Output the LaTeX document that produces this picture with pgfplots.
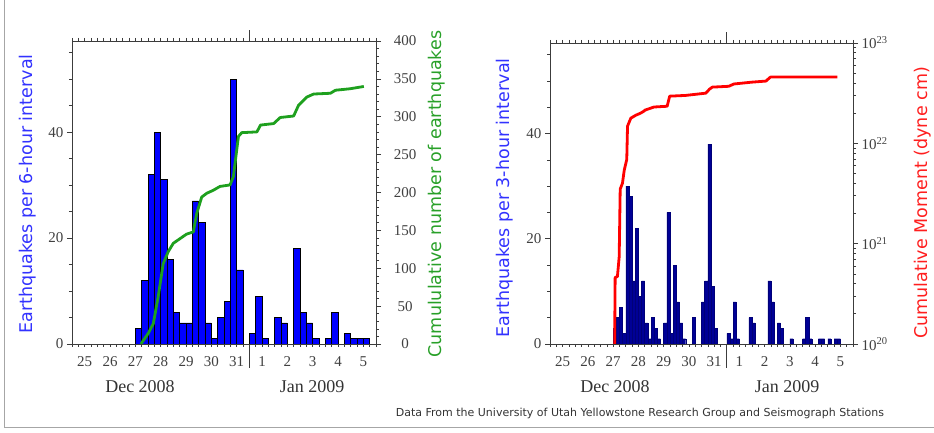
\documentclass[border=0pt]{standalone}
\usepackage{fontspec}
\setmainfont{Liberation Serif}
\newfontfamily\labfont{DejaVu Sans}
\usepackage{pgfplots}
\pgfplotsset{compat=1.18}

\definecolor{barblue}{RGB}{0,0,255}
\definecolor{navybar}{RGB}{0,0,150}
\definecolor{cumgreen}{RGB}{30,160,30}
\definecolor{labblue}{RGB}{50,50,255}
\definecolor{labgreen}{RGB}{40,160,40}
\definecolor{labred}{RGB}{255,30,30}
\definecolor{axcol}{RGB}{60,60,60}

\pgfplotsset{
  panel/.style={scale only axis, anchor=south west, xmin=0, xmax=12,
    axis line style={axcol, line width=0.8pt},
    tick style={axcol, line width=0.6pt},
    tick align=outside,
    major tick length=5pt, minor tick length=3pt,
    ticklabel style={font=\fontsize{15}{15}\selectfont, text=black!75},
    /pgf/number format/assume math mode=true},
  barax/.style={panel, ymin=0, ymax=57.2,
    ytick={0,20,40}, minor ytick={5,10,...,55}, ytick pos=left,
    xtick={0.5,1.5,...,11.5}, xticklabels={25,26,27,28,29,30,31,1,2,3,4,5},
    xticklabel style={yshift=-4pt},
    minor xtick={0,0.25,...,12}, xtick pos=both,
    every major x tick/.append style={draw=none}},
  lineax/.style={panel, axis x line=none, axis y line*=right}
}

\begin{document}
\begin{tikzpicture}
\path[use as bounding box] (0,0) rectangle (934pt,433pt);
\draw[black!35, line width=1pt] (4pt,433pt) -- (4pt,5pt) -- (934pt,5pt);

% left panel: 6-hour counts
\begin{axis}[barax, at={(72pt,89pt)}, width=304pt, height=303pt]
\addplot[ybar, bar width=0.25, bar shift=0pt, fill=barblue, draw=black, line width=0.6pt] coordinates {
(2.625,3) (2.875,12) (3.125,32) (3.375,40) (3.625,31) (3.875,16) (4.125,6) (4.375,4)
(4.625,4) (4.875,27) (5.125,23) (5.375,4) (5.625,1) (5.875,5) (6.125,8) (6.375,50)
(6.625,14) (7.125,2) (7.375,9) (7.625,1) (8.125,5) (8.375,4) (8.875,18) (9.125,6)
(9.375,4) (9.625,1) (10.125,1) (10.375,6) (10.875,2) (11.125,1) (11.375,1) (11.625,1)
};
\end{axis}
\begin{axis}[lineax, at={(72pt,89pt)}, width=304pt, height=303pt,
  ymin=0, ymax=400, ytick={0,50,...,400}, minor y tick num=4,
  yticklabel style={anchor=center, xshift=24pt}]
\addplot[cumgreen, line width=2.8pt, line join=round] coordinates {
(2.72,0) (3.01,14) (3.21,27) (3.40,62) (3.60,106) (3.80,122) (4.0,133) (4.26,139)
(4.52,145) (4.79,148) (4.92,172) (5.12,194) (5.32,199) (5.58,203) (5.84,208) (6.24,210)
(6.37,221) (6.57,274) (6.70,279) (7.30,280) (7.44,289) (7.96,291) (8.22,299) (8.75,301)
(8.94,315) (9.27,326) (9.54,330) (10.2,331) (10.4,335) (10.99,337) (11.52,340)
};
\end{axis}

% right panel: 3-hour counts
\begin{axis}[barax, at={(550pt,89pt)}, width=303pt, height=301pt]
\addplot[ybar, bar width=0.125, bar shift=0pt, fill=navybar, draw=navybar!80!black, line width=0.4pt] coordinates {
(2.5625,3) (2.6875,5) (2.8125,7) (2.9375,2) (3.0625,30) (3.1875,28) (3.3125,12) (3.4375,22)
(3.5625,9) (3.6875,12) (3.8125,4) (3.9375,1) (4.0625,5) (4.1875,3) (4.3125,1) (4.5625,4)
(4.6875,25) (4.8125,2) (4.9375,15) (5.0625,8) (5.1875,4) (5.3125,1) (5.6875,5) (6.0625,8)
(6.1875,12) (6.3125,38) (6.4375,11) (6.5625,3) (7.0625,2) (7.1875,1) (7.3125,8) (7.4375,1)
(7.9375,5) (8.0625,4) (8.6875,12) (8.8125,8) (9.0625,4) (9.1875,3) (9.5625,1) (10.0625,1)
(10.1875,5) (10.3125,1) (10.6875,1) (10.8125,1) (11.0625,1) (11.3125,1) (11.4375,1)
};
\end{axis}
\begin{axis}[lineax, at={(550pt,89pt)}, width=303pt, height=301pt,
  ymode=log, ymin=1e20, ymax=1e23, ytick={1e20,1e21,1e22,1e23},
  yticklabels={10\textsuperscript{20},10\textsuperscript{21},10\textsuperscript{22},10\textsuperscript{23}}]
\addplot[red, line width=2.8pt, line join=round] coordinates {
(2.56,1e20) (2.58,4.6e20) (2.67,4.7e20) (2.74,7.4e20) (2.78,3.5e21) (2.87,4.0e21)
(2.94,5.4e21) (3.04,6.9e21) (3.07,1.48e22) (3.20,1.78e22) (3.39,1.9e22) (3.59,2.0e22)
(3.73,2.1e22) (3.76,2.14e22) (4.12,2.3e22) (4.64,2.34e22) (4.74,2.95e22) (5.37,3.0e22)
(6.17,3.16e22) (6.32,3.47e22) (6.43,3.63e22) (7.08,3.7e22) (7.28,3.9e22) (8.0,4.07e22)
(8.55,4.17e22) (8.73,4.57e22) (11.38,4.57e22)
};
\end{axis}

% month boundary ticks
\draw[axcol, line width=0.6pt] (249.3pt,89pt) -- ++(0,-24pt);
\draw[axcol, line width=0.6pt] (249.3pt,392pt) -- ++(0,11pt);
\draw[axcol, line width=0.6pt] (726.75pt,89pt) -- ++(0,-24pt);
\draw[axcol, line width=0.6pt] (726.75pt,390pt) -- ++(0,11pt);

\begin{scope}[every node/.style={font=\fontsize{18}{18}\selectfont, text=black!80}]
\node at (140pt,46pt) {Dec 2008};
\node at (312pt,46pt) {Jan 2009};
\node at (615pt,46pt) {Dec 2008};
\node at (787pt,46pt) {Jan 2009};
\end{scope}

\begin{scope}[every node/.style={rotate=90, font=\labfont\fontsize{17.5}{17.5}\selectfont}]
\node[text=labblue] at (28pt,239pt) {Earthquakes per 6-hour interval};
\node[text=labgreen] at (437pt,239pt) {Cumululative number of earthquakes};
\node[text=labblue] at (505pt,235pt) {Earthquakes per 3-hour interval};
\node[text=labred] at (923pt,230pt) {Cumulative Moment (dyne cm)};
\end{scope}

\node[font=\labfont\fontsize{11}{11}\selectfont, text=black!80] at (640pt,20pt)
  {Data From the University of Utah Yellowstone Research Group and Seismograph Stations};
\end{tikzpicture}
\end{document}
